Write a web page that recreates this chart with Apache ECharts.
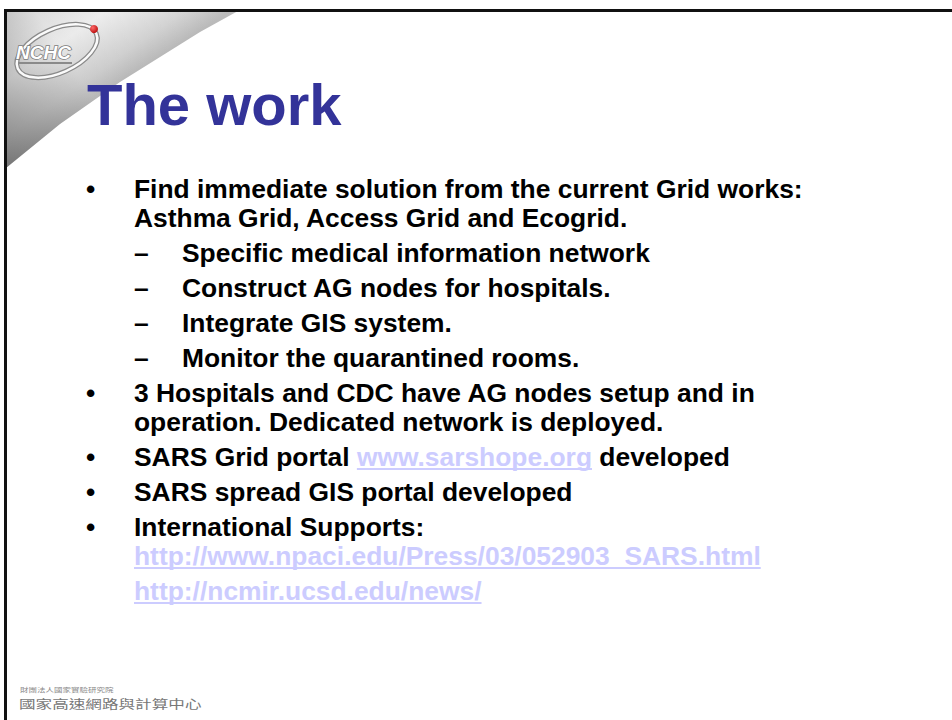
<!DOCTYPE html>
<html>
<head>
<meta charset="utf-8">
<script src="https://cdn.jsdelivr.net/npm/echarts@6/dist/echarts.min.js"></script>
<style>
html, body { margin: 0; padding: 0; background: #fff; }
#slide { width: 952px; height: 720px; }
</style>
</head>
<body>
<div id="slide"></div>
<script>
// slide content
var slideTitle = 'The work';
var paragraphLines = [
    ['Find immediate solution from the current Grid works:', 'Asthma Grid, Access Grid and Ecogrid.'],
    ['Specific medical information network'],
    ['Construct AG nodes for hospitals.'],
    ['Integrate GIS system.'],
    ['Monitor the quarantined rooms.'],
    ['3 Hospitals and CDC have AG nodes setup and in', 'operation. Dedicated network is deployed.'],
    ['SARS Grid portal www.sarshope.org developed'],
    ['SARS spread GIS portal developed'],
    ['International Supports:', 'http://www.npaci.edu/Press/03/052903_SARS.html'],
    ['http://ncmir.ucsd.edu/news/']
];
// 1 = bullet, 2 = dash sub item, 0 = continuation without mark
var paragraphLevels = [1, 2, 2, 2, 2, 1, 1, 1, 1, 0];
var linkTexts = ['www.sarshope.org', 'http://www.npaci.edu/Press/03/052903_SARS.html', 'http://ncmir.ucsd.edu/news/'];
var logoText = 'NCHC';
var footerSmall = '財團法人國家實驗研究院';
var footerBig = '國家高速網路與計算中心';

var Slide = {
    chart: null,
    bodyFont: 'bold 26.4px "Liberation Sans", Arial, sans-serif',
    ctx: document.createElement('canvas').getContext('2d')
};

Slide.textWidth = function (s, font) {
    Slide.ctx.font = font;
    return Slide.ctx.measureText(s).width;
};

// split a line into plain / link pieces
Slide.splitLine = function (line) {
    for (var i = 0; i < linkTexts.length; i++) {
        var k = line.indexOf(linkTexts[i]);
        if (k >= 0) {
            var out = [];
            if (k > 0) out.push({t: line.slice(0, k), link: false});
            out.push({t: linkTexts[i], link: true});
            var rest = line.slice(k + linkTexts[i].length);
            if (rest) out.push({t: rest, link: false});
            return out;
        }
    }
    return [{t: line, link: false}];
};

Slide.decor = function () {
    var els = [];
    var curl = [[6, 11], [238, 11], [200, 32], [120, 82], [60, 124], [6, 168]];
    // page curl in the corner
    els.push({
        type: 'polygon',
        shape: {points: curl},
        style: {
            fill: new echarts.graphic.LinearGradient(6, 11, 80, 116, [
                {offset: 0, color: '#e4e4e4'},
                {offset: 0.45, color: '#f8f8f8'},
                {offset: 0.8, color: '#d8d8d8'},
                {offset: 1, color: '#bcbcbc'}
            ], true)
        },
        z: 1
    });
    els.push({
        type: 'polygon',
        shape: {points: curl},
        style: {
            fill: new echarts.graphic.LinearGradient(238, 11, 6, 168, [
                {offset: 0, color: 'rgba(0,0,0,0)'},
                {offset: 0.6, color: 'rgba(0,0,0,0.06)'},
                {offset: 1, color: 'rgba(0,0,0,0.38)'}
            ], true)
        },
        z: 2
    });
    // logo ring
    els.push({
        type: 'ellipse',
        shape: {cx: 57, cy: 51, rx: 43, ry: 22},
        rotation: 0.42, originX: 57, originY: 51,
        style: {fill: 'none', stroke: '#8a8a8a', lineWidth: 5},
        z: 3
    });
    els.push({
        type: 'ellipse',
        shape: {cx: 57, cy: 51, rx: 43, ry: 22},
        rotation: 0.42, originX: 57, originY: 51,
        style: {fill: 'none', stroke: '#fafafa', lineWidth: 2.5},
        z: 4
    });
    els.push({
        type: 'text', x: 16, y: 52,
        style: {
            text: logoText, font: 'italic bold 19px "Liberation Sans", Arial, sans-serif',
            fill: '#ffffff', stroke: '#7a7a7a', lineWidth: 1.5,
            verticalAlign: 'middle', align: 'left'
        },
        z: 5
    });
    els.push({
        type: 'line', shape: {x1: 18, y1: 63, x2: 72, y2: 63},
        style: {stroke: '#8a8a8a', lineWidth: 2}, z: 5
    });
    els.push({
        type: 'circle', shape: {cx: 94, cy: 29, r: 4},
        style: {fill: new echarts.graphic.RadialGradient(0.35, 0.35, 0.8, [
            {offset: 0, color: '#ff6a6a'}, {offset: 1, color: '#b00000'}
        ])},
        z: 6
    });
    // frame
    els.push({type: 'rect', shape: {x: 4, y: 9, width: 948, height: 3}, style: {fill: '#111'}, z: 10});
    els.push({type: 'rect', shape: {x: 4, y: 9, width: 3, height: 711}, style: {fill: '#111'}, z: 10});
    return els;
};

Slide.body = function () {
    var els = [];
    var font = Slide.bodyFont;
    var base = 197;
    paragraphLines.forEach(function (lines, p) {
        if (p > 0) base += 35;
        var lvl = paragraphLevels[p];
        var textX = lvl === 2 ? 182 : 134;
        if (lvl === 1 || lvl === 2) {
            els.push({
                type: 'text', x: lvl === 2 ? 134 : 86, y: base - 8.5,
                style: {text: lvl === 2 ? '–' : '•', font: font, fill: '#000', verticalAlign: 'middle'},
                z: 20
            });
        }
        lines.forEach(function (line, i) {
            if (i > 0) base += 29;
            var x = textX;
            Slide.splitLine(line).forEach(function (seg) {
                var w = Slide.textWidth(seg.t, font);
                els.push({
                    type: 'text', x: x, y: base - 8.5,
                    style: {text: seg.t, font: font, fill: seg.link ? '#ccccff' : '#000', verticalAlign: 'middle'},
                    z: 20
                });
                if (seg.link) {
                    els.push({
                        type: 'line', shape: {x1: x, y1: base + 4, x2: x + w, y2: base + 4},
                        style: {stroke: '#ccccff', lineWidth: 2}, z: 20
                    });
                }
                x += w;
            });
        });
    });
    return els;
};

Slide.init = function () {
    Slide.chart = echarts.init(document.getElementById('slide'), null, {renderer: 'svg'});
    var els = Slide.decor().concat(Slide.body());
    els.push({
        type: 'text', x: 87, y: 104,
        style: {text: slideTitle, font: 'bold 58px "Liberation Sans", Arial, sans-serif', fill: '#333399', verticalAlign: 'middle'},
        z: 20
    });
    // footer logo text
    els.push({
        type: 'text', x: 20, y: 689, scaleY: 0.7,
        style: {text: footerSmall, font: '8.5px "Noto Sans CJK TC", sans-serif', fill: '#8a8a8a', verticalAlign: 'middle'},
        z: 20
    });
    els.push({
        type: 'text', x: 19, y: 704, scaleY: 0.72,
        style: {text: footerBig, font: '16.6px "Noto Sans CJK TC", sans-serif', fill: '#777', verticalAlign: 'middle'},
        z: 20
    });
    Slide.chart.setOption({
        backgroundColor: '#ffffff',
        graphic: {elements: els}
    });
};

Slide.init();
</script>
</body>
</html>
